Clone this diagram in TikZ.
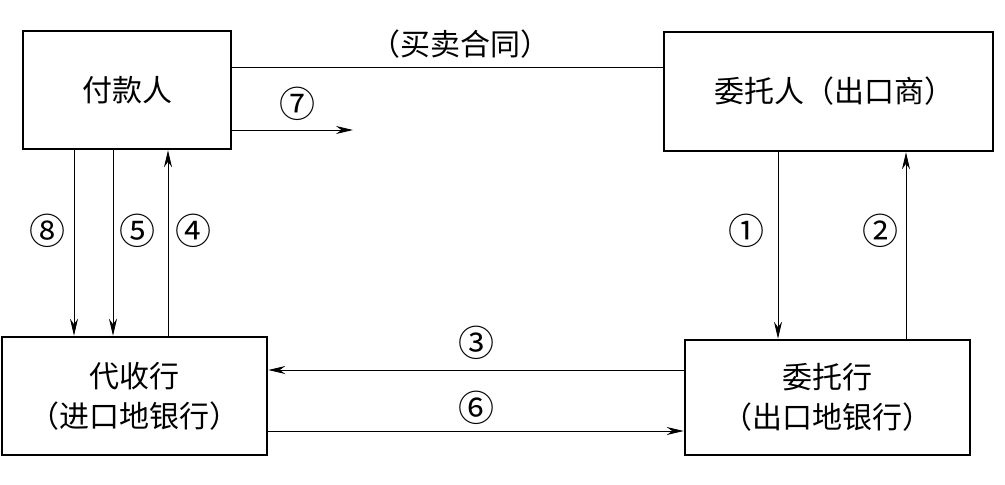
\documentclass[tikz,border=0pt]{standalone}
\usepackage{fontspec}
\newfontfamily\cjk{Noto Sans CJK SC}
\usetikzlibrary{arrows.meta}
\begin{document}
\begin{tikzpicture}[x=1pt,y=-1pt,
  box/.style={draw,line width=2.6pt,inner sep=0pt,align=center,
    font=\cjk\fontsize{30}{40}\selectfont},
  conn/.style={line width=0.9pt},
  arr/.style={conn,-{Stealth[length=17pt,width=8pt]}},
  num/.style={font=\cjk\fontsize{36}{38}\selectfont,inner sep=0pt},
  lbl/.style={font=\cjk\fontsize{30}{32}\selectfont,inner sep=0pt}]
\useasboundingbox (0,0) rectangle (1005,485);
\node[box,minimum width=208pt,minimum height=118pt] (fk) at (127,90) {付款人};
\node[box,minimum width=329pt,minimum height=119pt] (wt) at (828.5,91.5) {\hspace*{12pt}委托人（出口商）};
\node[box,minimum width=265pt,minimum height=118pt] (ds) at (134.5,396) {代收行\\（进口地银行）};
\node[box,minimum width=285pt,minimum height=115pt] (wh) at (827.5,397.5) {委托行\\（出口地银行）};
% contract line
\draw[conn] (fk.east |- 0,67) -- (wt.west |- 0,67);
\node[lbl] (ht) at (460,44) {（买卖合同）};
% 7
\coordinate (e7) at (353,130);
\draw[arr] (fk.east |- e7) -- (e7);
\node[num] (n7) at (297,104) {⑦};
% 8 5 4
\draw[arr] (fk.south -| 74,0) -- (ds.north -| 74,0);
\draw[arr] (fk.south -| 113,0) -- (ds.north -| 113,0);
\draw[arr] (ds.north -| 168,0) -- (fk.south -| 168,0);
\node[num] (n8) at (48,231) {⑧};
\node[num] (n5) at (137,231) {⑤};
\node[num] (n4) at (193,231) {④};
% 1 2
\draw[arr] (wt.south -| 778,0) -- (wh.north -| 778,0);
\draw[arr] (wh.north -| 906,0) -- (wt.south -| 906,0);
\node[num] (n1) at (746,231) {①};
\node[num] (n2) at (880,231) {②};
% 3 6
\draw[arr] (wh.west |- 0,370) -- (ds.east |- 0,370);
\draw[arr] (ds.east |- 0,431) -- (wh.west |- 0,431);
\node[num] (n3) at (476,343) {③};
\node[num] (n6) at (476,408) {⑥};
\end{tikzpicture}
\end{document}
